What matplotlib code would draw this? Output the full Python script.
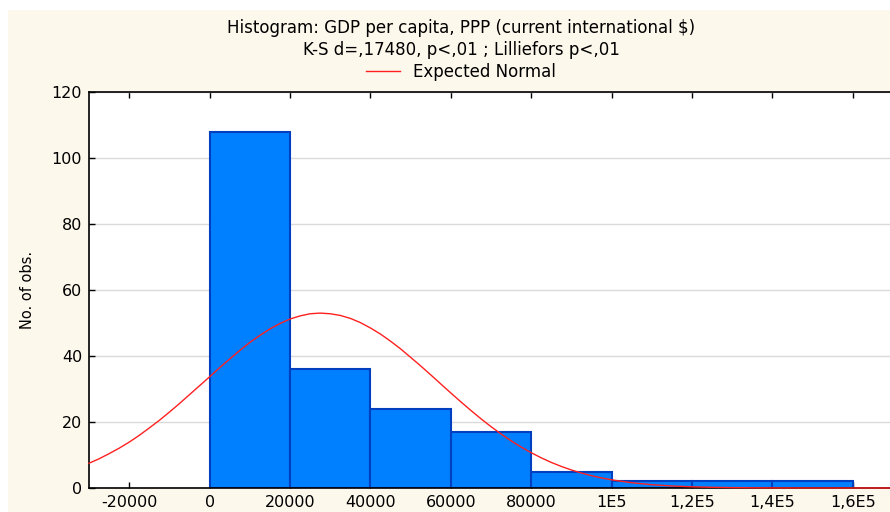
import matplotlib
matplotlib.use('Agg')
import matplotlib.pyplot as plt
from matplotlib.patches import Rectangle

plt.rcParams['font.family'] = ['DejaVu Sans']

# histogram bins (left edges) and counts
bin_left = [0, 20000, 40000, 60000, 80000, 100000, 120000, 140000]
bin_width = 20000
counts = [108, 36, 24, 17, 5, 2, 2, 2]

# expected normal curve
curve_x = [-30000, -27500, -25000, -22500, -20000, -17500, -15000, -12500,
           -10000, -7500, -5000, -2500, 0, 2500, 5000, 7500, 10000, 12500,
           15000, 17500, 20000, 22500, 25000, 27500, 30000, 32500, 35000, 37500,
           40000, 42500, 45000, 47500, 50000, 52500, 55000, 57500, 60000, 62500,
           65000, 67500, 70000, 72500, 75000, 77500, 80000, 82500, 85000, 87500,
           90000, 92500, 95000, 97500, 100000, 105000, 110000, 115000, 120000,
           125000, 130000, 135000, 140000, 150000, 160000, 170000]
curve_y = [7.5, 8.85, 10.4, 12.06, 13.9, 15.95, 18.2, 20.5,
           23.0, 25.58, 28.3, 30.99, 33.7, 36.47, 39.1, 41.67, 44.1, 46.24,
           48.2, 49.84, 51.2, 52.15, 52.8, 53.0, 52.8, 52.3, 51.4, 50.13,
           48.5, 46.65, 44.5, 42.17, 39.6, 37.0, 34.3, 31.54, 28.8, 26.11,
           23.5, 20.98, 18.6, 16.38, 14.3, 12.41, 10.7, 9.14, 7.75, 6.53,
           5.46, 4.54, 3.74, 3.06, 2.48, 1.60, 1.00, 0.61, 0.36,
           0.21, 0.12, 0.06, 0.03, 0.008, 0.002, 0.0004]

xticks = [-20000, 0, 20000, 40000, 60000, 80000, 100000, 120000, 140000, 160000]
xtick_labels = ['-20000', '0', '20000', '40000', '60000', '80000',
                '1E5', '1,2E5', '1,4E5', '1,6E5']
yticks = [0, 20, 40, 60, 80, 100, 120]

title1 = 'Histogram: GDP per capita, PPP (current international $)'
title2 = 'K-S d=,17480, p<,01 ; Lilliefors p<,01'

fig = plt.figure(figsize=(8.9, 5.12), dpi=100, facecolor='white')
fig.patches.append(Rectangle((8 / 890, 0), 1, 1 - 10 / 512, transform=fig.transFigure,
                             facecolor='#fdf8ec', edgecolor='none', zorder=-10))

ax = fig.add_axes([89 / 890, 24 / 512, 804 / 890, 396 / 512])
ax.set_facecolor('white')

ax.bar(bin_left, counts, width=bin_width, align='edge', color='#0080ff',
       edgecolor='#0040c0', linewidth=1.5, zorder=2)
ax.plot(curve_x, curve_y, color='#ff2020', linewidth=1.0, zorder=3,
        label='Expected Normal', clip_on=False)

ax.set_xlim(-30000, 170000)
ax.set_ylim(0, 120)
ax.set_xticks(xticks)
ax.set_xticklabels(xtick_labels)
ax.set_yticks(yticks)
ax.yaxis.grid(True, color='#dadada', linewidth=1)
ax.set_axisbelow(True)
ax.tick_params(direction='in', length=4, width=1, top=True, right=False,
               labelsize=11.5, colors='black', pad=5)
for s in ['left', 'bottom', 'top']:
    ax.spines[s].set_linewidth(1.2)
ax.spines['right'].set_visible(False)

ax.set_ylabel('No. of obs.', fontsize=10.5, labelpad=12)

fig.text(461 / 890, 1 - 28 / 512, title1, ha='center', va='center', fontsize=12)
fig.text(461 / 890, 1 - 50 / 512, title2, ha='center', va='center', fontsize=12)
fig.legend(loc='center', bbox_to_anchor=(461 / 890, 1 - 72 / 512), frameon=False,
           fontsize=12, handlelength=2.0, handletextpad=0.8)

fig.savefig('out.png', dpi=100, facecolor=fig.get_facecolor())
